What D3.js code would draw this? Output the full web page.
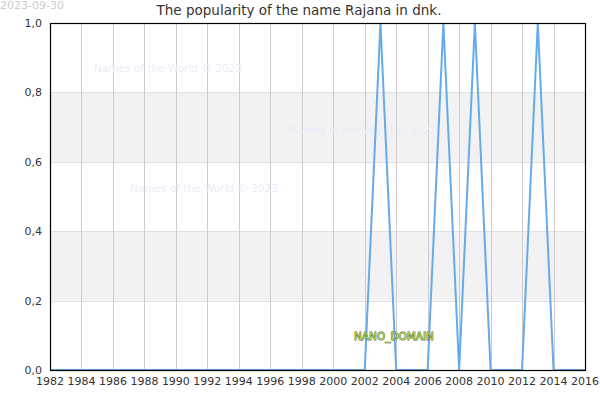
<!DOCTYPE html>
<html>
<head>
<meta charset="utf-8">
<script src="https://cdn.jsdelivr.net/npm/d3@7"></script>
<style>
    body { margin: 0; background: #fff; }
    svg { font-family: "DejaVu Sans", sans-serif; }
</style>
</head>
<body>
<div id="chart"></div>
<script>
// yearly popularity values, 1982..2016
const years = d3.range(1982, 2017);
const popularity = [
    0, 0, 0, 0, 0, 0, 0, 0, 0, 0,   // 1982-1991
    0, 0, 0, 0, 0, 0, 0, 0, 0, 0,   // 1992-2001
    0, 1, 0, 0, 0, 1, 0, 1, 0, 0,   // 2002-2011
    0, 1, 0, 0, 0                   // 2012-2016
];
const xTicks = d3.range(1982, 2017, 2);
const yTicks = [0, 0.2, 0.4, 0.6, 0.8, 1.0];
const bands = [[0.2, 0.4], [0.6, 0.8]];
const watermarks = [
    { x: 168, y: 72 },
    { x: 363, y: 134 },
    { x: 204, y: 192 }
];

const width = 600, height = 400;
const margin = { top: 23, right: 15, bottom: 30, left: 50 };

const svg = d3.select("#chart")
    .append("svg")
    .attr("width", width)
    .attr("height", height);

const xScale = d3.scaleLinear()
    .domain([1982, 2016])
    .range([margin.left, width - margin.right]);
const yScale = d3.scaleLinear()
    .domain([0, 1])
    .range([height - margin.bottom, margin.top]);

// grey bands
svg.selectAll(".band")
    .data(bands)
    .enter()
    .append("rect")
    .attr("class", "band")
    .attr("x", xScale(1982))
    .attr("width", xScale(2016) - xScale(1982))
    .attr("y", d => yScale(d[1]))
    .attr("height", d => yScale(d[0]) - yScale(d[1]))
    .style("fill", "#f2f2f2");

// horizontal grid
svg.selectAll(".hgrid")
    .data(yTicks.slice(1, -1))
    .enter()
    .append("line")
    .attr("class", "hgrid")
    .attr("x1", xScale(1982))
    .attr("x2", xScale(2016))
    .attr("y1", d => Math.round(yScale(d)) + 0.5)
    .attr("y2", d => Math.round(yScale(d)) + 0.5)
    .style("stroke", "#e0e0e0");

// vertical grid
svg.selectAll(".vgrid")
    .data(xTicks.slice(1, -1))
    .enter()
    .append("line")
    .attr("class", "vgrid")
    .attr("x1", d => Math.round(xScale(d)) + 0.5)
    .attr("x2", d => Math.round(xScale(d)) + 0.5)
    .attr("y1", yScale(1))
    .attr("y2", yScale(0))
    .style("stroke", "#cccccc");

// watermarks
svg.selectAll(".wm")
    .data(watermarks)
    .enter()
    .append("text")
    .attr("class", "wm")
    .attr("x", d => d.x)
    .attr("y", d => d.y)
    .attr("text-anchor", "middle")
    .style("font-size", "10.5px")
    .style("fill", "#ebebfa")
    .text("Names of the World © 2023");

// the line
const line = d3.line()
    .x((d, i) => xScale(years[i]))
    .y(d => yScale(d));
svg.append("path")
    .datum(popularity)
    .attr("d", line)
    .style("fill", "none")
    .style("stroke", "#66aaee")
    .style("stroke-width", 2);

// frame
svg.append("rect")
    .attr("x", Math.round(xScale(1982)) + 0.5)
    .attr("y", Math.round(yScale(1)) + 0.5)
    .attr("width", Math.round(xScale(2016)) - Math.round(xScale(1982)))
    .attr("height", Math.round(yScale(0)) - Math.round(yScale(1)))
    .style("fill", "none")
    .style("stroke", "#000")
    .style("stroke-width", 1.2);

// axes labels
const fmt = d => d3.format(".1f")(d).replace(".", ",");
svg.selectAll(".ylab")
    .data(yTicks)
    .enter()
    .append("text")
    .attr("class", "ylab")
    .attr("x", margin.left - 8)
    .attr("y", d => yScale(d) + 4)
    .attr("text-anchor", "end")
    .style("font-size", "11px")
    .style("fill", "#333")
    .text(fmt);

svg.selectAll(".xlab")
    .data(xTicks)
    .enter()
    .append("text")
    .attr("class", "xlab")
    .attr("x", d => xScale(d))
    .attr("y", height - margin.bottom + 15)
    .attr("text-anchor", "middle")
    .style("font-size", "11px")
    .style("fill", "#333")
    .text(d => d);

// title and date
svg.append("text")
    .attr("x", width / 2 - 1)
    .attr("y", 15)
    .attr("text-anchor", "middle")
    .style("font-size", "13.5px")
    .style("fill", "#333")
    .text("The popularity of the name Rajana in dnk.");

svg.append("text")
    .attr("x", 0)
    .attr("y", 9)
    .style("font-size", "11px")
    .style("fill", "#cccccc")
    .text("2023-09-30");

// domain label
svg.append("text")
    .attr("x", 394)
    .attr("y", 340)
    .attr("text-anchor", "middle")
    .style("font-size", "10.5px")
    .style("fill", "#b5d56a")
    .style("stroke", "#3f5f10")
    .style("stroke-width", 0.8)
    .style("paint-order", "stroke")
    .text("NANO_DOMAIN");
</script>
</body>
</html>
